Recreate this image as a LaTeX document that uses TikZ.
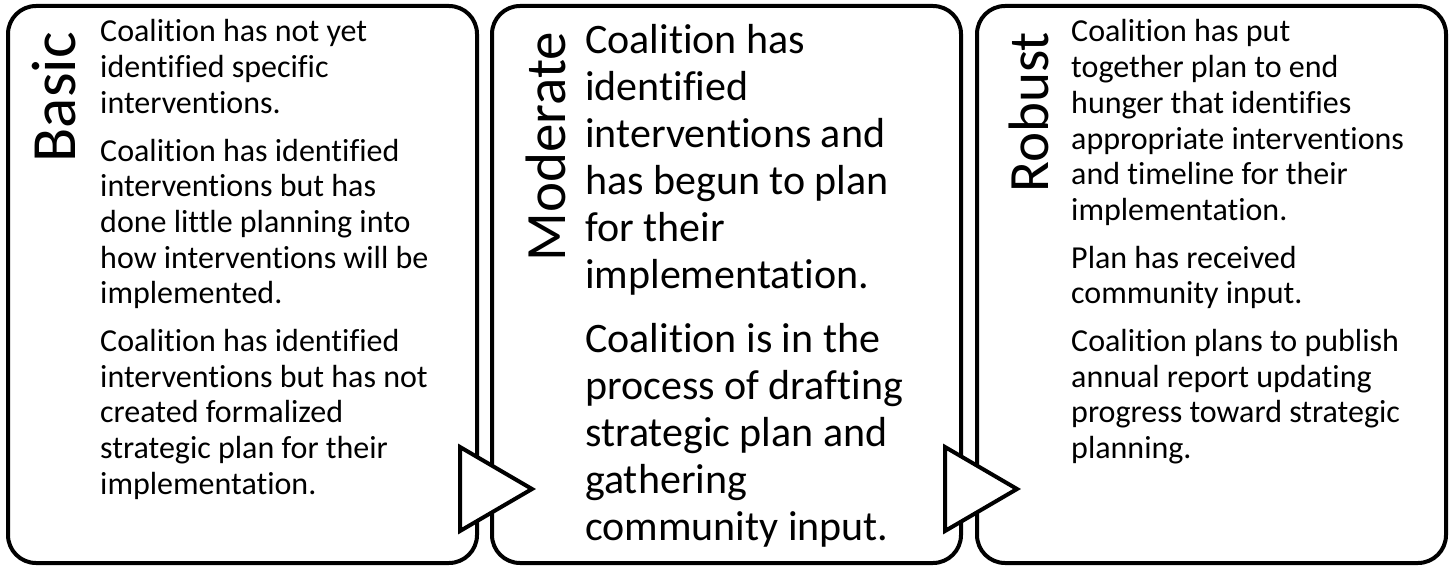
\documentclass[tikz,border=0pt]{standalone}
\usepackage{fontspec}
\setmainfont{Carlito}[Ligatures={NoCommon,NoContextual}]

\begin{document}
\begin{tikzpicture}[x=1pt, y=-1pt,
    stage/.style={draw, line width=4pt, rounded corners=28pt, minimum width=469pt, minimum height=557pt},
    stagename/.style={rotate=90, anchor=base east, inner sep=0pt, font=\fontsize{#1}{#1}\selectfont},
    stagebody/.style={anchor=north west, inner sep=0pt, align=left, font=\fontsize{32}{35.7}\selectfont},
    bigbody/.style={stagebody, font=\fontsize{42}{47}\selectfont},
    nextarrow/.style={draw, fill=white, line width=4pt}]
    \useasboundingbox (0,0) rectangle (1453,567);

    % the three stages
    \node[stage] (basic) at (242.5,284.5) {};
    \node[stage] (moderate) at (726.5,284.5) {};
    \node[stage] (robust) at (1211.5,284.5) {};

    % titles
    \node[stagename=63] (basicname) at (75,32) {Basic};
    \node[stagename=57] (moderatename) at (565,32) {Moderate};
    \node[stagename=57] (robustname) at (1048,32) {Robust};

    % texts
    \node[stagebody] (basictext) at (100,16.8) {\strut Coalition has not yet\\identified specific\\interventions.\\[12pt]Coalition has identified\\interventions but has\\done little planning into\\how interventions will be\\implemented.\\[12pt]Coalition has identified\\interventions but has not\\created formalized\\strategic plan for their\\implementation.};
    \node[bigbody] (moderatetext) at (585,20) {\strut Coalition has\\identified\\interventions and\\has begun to plan\\for their\\implementation.\\[17pt]Coalition is in the\\process of drafting\\strategic plan and\\gathering\\community input.};
    \node[stagebody] (robusttext) at (1071,16.8) {\strut Coalition has put\\together plan to end\\hunger that identifies\\appropriate interventions\\and timeline for their\\implementation.\\[12pt]Plan has received\\community input.\\[12pt]Coalition plans to publish\\annual report updating\\progress toward strategic\\planning.};

    % arrows between stages
    \draw[nextarrow] (460,447) -- (532,489) -- (460,531) -- cycle;
    \draw[nextarrow] (945,447) -- (1017,489) -- (945,531) -- cycle;
\end{tikzpicture}
\end{document}
